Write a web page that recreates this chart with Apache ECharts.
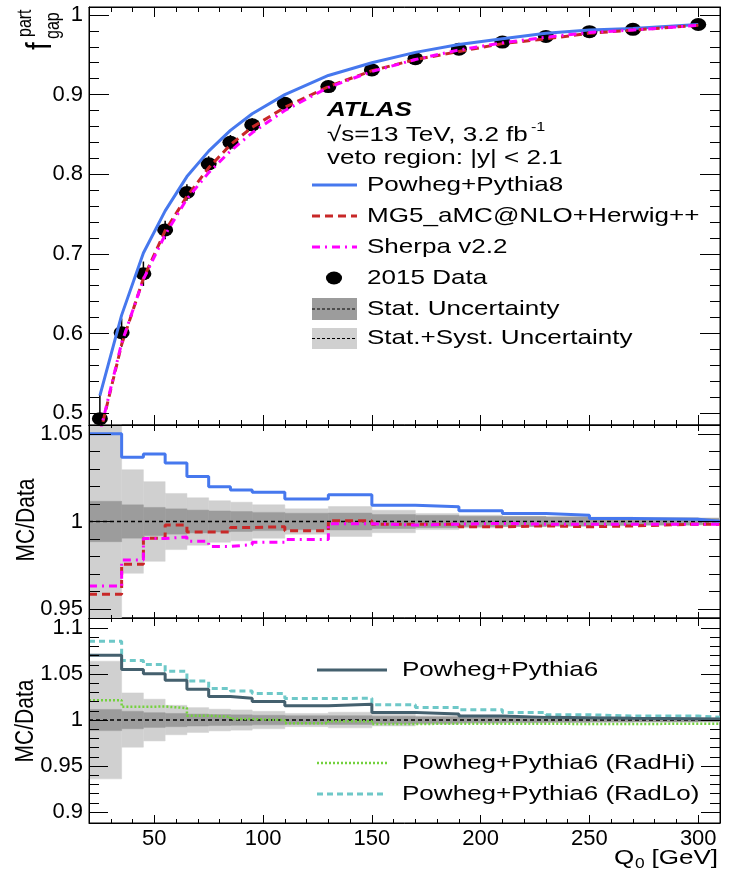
<!DOCTYPE html>
<html>
<head>
<meta charset="utf-8">
<script src="https://cdn.jsdelivr.net/npm/echarts@6/dist/echarts.min.js"></script>
<style>
html, body { margin: 0; padding: 0; background: #fff; }
#chart { width: 730px; height: 872px; }
</style>
</head>
<body>
<div id="chart"></div>
<script>
// Q0 values of the points and the bin edges used by the ratio histograms
const q0Points = [25, 35, 45, 55, 65, 75, 85, 95, 110, 130, 150, 170, 190, 210, 230, 250, 270, 300];
const binEdges = [20, 35, 45, 55, 65, 75, 85, 95, 110, 130, 150, 170, 190, 210, 230, 250, 270, 300, 310];

// top panel: f_gap
const fgapData    = [0.493, 0.601, 0.675, 0.730, 0.777, 0.813, 0.840, 0.862, 0.889, 0.910, 0.931, 0.945, 0.957, 0.966, 0.973, 0.979, 0.982, 0.988];
const fgapPowheg8 = [0.522, 0.623, 0.701, 0.754, 0.797, 0.829, 0.855, 0.876, 0.900, 0.924, 0.940, 0.953, 0.963, 0.970, 0.977, 0.981, 0.983, 0.988];
const fgapMG5     = [0.473, 0.586, 0.669, 0.729, 0.772, 0.808, 0.837, 0.859, 0.884, 0.910, 0.930, 0.944, 0.954, 0.964, 0.970, 0.977, 0.981, 0.987];
const fgapSherpa  = [0.475, 0.588, 0.668, 0.724, 0.769, 0.802, 0.829, 0.852, 0.880, 0.909, 0.929, 0.944, 0.956, 0.965, 0.972, 0.978, 0.981, 0.987];

// relative uncertainties of the data
const statUnc = [0.0115, 0.0095, 0.008, 0.0072, 0.0065, 0.006, 0.0057, 0.0052, 0.0047, 0.0048, 0.004, 0.0035, 0.003, 0.0028, 0.0025, 0.0022, 0.002, 0.0018];
const totUnc  = [0.064, 0.0295, 0.0227, 0.016, 0.0135, 0.0118, 0.011, 0.0095, 0.0072, 0.0085, 0.0064, 0.0046, 0.0036, 0.003, 0.0028, 0.0025, 0.0022, 0.002];

// middle panel: MC/Data
const ratioPowheg8 = [1.050, 1.0366, 1.0385, 1.0333, 1.0257, 1.0198, 1.0179, 1.0166, 1.0128, 1.0152, 1.0093, 1.0084, 1.0061, 1.0046, 1.0036, 1.0017, 1.0013, 1.0002];
const ratioMG5     = [0.9585, 0.9756, 0.9905, 0.998, 0.994, 0.994, 0.9966, 0.997, 0.9947, 1.0004, 0.9985, 0.9985, 0.997, 0.9975, 0.997, 0.9975, 0.9985, 0.9985];
const ratioSherpa  = [0.9632, 0.9781, 0.9903, 0.9912, 0.9888, 0.9858, 0.9868, 0.9882, 0.9897, 0.9987, 0.998, 0.9985, 0.9989, 0.9985, 0.9985, 0.9985, 0.9985, 0.9985];

// bottom panel: MC/Data
const ratioPowheg6 = [1.0705, 1.055, 1.0504, 1.0432, 1.0335, 1.0255, 1.0237, 1.0201, 1.0155, 1.0173, 1.0083, 1.0065, 1.0043, 1.0029, 1.0025, 1.002, 1.0015, 1.001];
const ratioRadHi   = [1.0216, 1.0144, 1.0147, 1.013, 1.0047, 1.0036, 1.001, 1.0, 0.9964, 0.9986, 0.9957, 0.996, 0.996, 0.996, 0.9957, 0.9957, 0.996, 0.996];
const ratioRadLo   = [1.0856, 1.0647, 1.0604, 1.0532, 1.0424, 1.0342, 1.0317, 1.0288, 1.0234, 1.0237, 1.0165, 1.0137, 1.0112, 1.0083, 1.0058, 1.0043, 1.0043, 1.003];

// tick labels
const xMajorTicks = [50, 100, 150, 200, 250, 300];
const yTopTicks = [0.5, 0.6, 0.7, 0.8, 0.9, 1];
const yMidTicks = [0.95, 1, 1.05];
const yBotTicks = [0.9, 0.95, 1, 1.05, 1.1];

const FONT = 'Liberation Sans';
const STRETCH = 1.24;
const xMin = 20, xMax = 310;

const C_BLUE = '#4678ee', C_RED = '#c82828', C_MAG = '#ff00ff';
const C_SLATE = '#44606e', C_TEAL = '#6ec8c8', C_GREEN = '#73d13d';
const C_STAT = '#9c9c9c', C_SYST = '#d0d0d0';

function minorValues(min, max, step, majors) {
    const out = [];
    for (let k = Math.ceil(min / step - 1e-9); k * step <= max + 1e-9; k++) {
        const v = +(k * step).toFixed(4);
        if (v < min + step * 0.3 || v > max - step * 0.3) continue;
        if (majors.some(m => Math.abs(m - v) < 1e-6)) continue;
        out.push(v);
    }
    return out;
}

const panels = [
    { top: 7, height: 418, yMin: 0.485, yMax: 1.01, yMajor: yTopTicks, yStep: 0.02,
      xMaj: 10, xMin: 5, yMaj: 20, yMinLen: 10, xLabels: false },
    { top: 425, height: 193, yMin: 0.945, yMax: 1.055, yMajor: yMidTicks, yStep: 0.01,
      xMaj: 6, xMin: 3, yMaj: 22, yMinLen: 11, xLabels: false },
    { top: 618, height: 205, yMin: 0.888, yMax: 1.111, yMajor: yBotTicks, yStep: 0.01,
      xMaj: 8, xMin: 4, yMaj: 19, yMinLen: 10, xLabels: true }
];

const labelStyle = { color: '#000', fontFamily: FONT, fontSize: 22 };

function makeAxis(gridIndex, position, min, max, ticks, len, withLine, label) {
    return {
        type: 'value', gridIndex, position, min, max, z: 10,
        axisLine: { show: withLine, onZero: false, lineStyle: { color: '#000', width: 1 } },
        axisTick: { show: true, inside: true, length: len, customValues: ticks,
                    lineStyle: { color: '#000', width: 1 } },
        axisLabel: label ? Object.assign({ customValues: ticks }, label) : { show: false },
        splitLine: { show: false }
    };
}

const xMinor = minorValues(xMin, xMax, 10, xMajorTicks);
const xAxes = [], yAxes = [];
panels.forEach((p, g) => {
    const yMinor = minorValues(p.yMin, p.yMax, p.yStep, p.yMajor);
    const xl = p.xLabels ? Object.assign({ margin: 5 }, labelStyle) : null;
    xAxes.push(
        makeAxis(g, 'bottom', xMin, xMax, xMajorTicks, p.xMaj, true, xl),
        makeAxis(g, 'bottom', xMin, xMax, xMinor, p.xMin, false, null),
        makeAxis(g, 'top', xMin, xMax, xMajorTicks, p.xMaj, true, null),
        makeAxis(g, 'top', xMin, xMax, xMinor, p.xMin, false, null)
    );
    const yl = Object.assign({ margin: 6, formatter: v => String(+(+v).toFixed(2)) }, labelStyle);
    yAxes.push(
        makeAxis(g, 'left', p.yMin, p.yMax, p.yMajor, p.yMaj, true, yl),
        makeAxis(g, 'left', p.yMin, p.yMax, yMinor, p.yMinLen, false, null),
        makeAxis(g, 'right', p.yMin, p.yMax, p.yMajor, p.yMaj, true, null),
        makeAxis(g, 'right', p.yMin, p.yMax, yMinor, p.yMinLen, false, null)
    );
});

function csRect(params) {
    const c = params.coordSys;
    return { x: c.x, y: c.y, width: c.width, height: c.height };
}

function bandSeries(g, unc, color, z) {
    return {
        type: 'custom', xAxisIndex: 4 * g, yAxisIndex: 4 * g, silent: true, z,
        data: unc.map((u, i) => [binEdges[i], binEdges[i + 1], u]),
        renderItem: (params, api) => {
            const p1 = api.coord([api.value(0), 1 + api.value(2)]);
            const p2 = api.coord([api.value(1), 1 - api.value(2)]);
            const shape = echarts.graphic.clipRectByRect(
                { x: p1[0], y: p1[1], width: p2[0] - p1[0], height: p2[1] - p1[1] }, csRect(params));
            return shape && { type: 'rect', shape, style: { fill: color, stroke: color, lineWidth: 0.5 } };
        }
    };
}

function stepSeries(g, vals, color, width, dash, z) {
    return {
        type: 'line', xAxisIndex: 4 * g, yAxisIndex: 4 * g, step: 'end', showSymbol: false,
        silent: true, z,
        data: binEdges.map((e, i) => [e, vals[Math.min(i, vals.length - 1)]]),
        lineStyle: { color, width, type: dash }
    };
}

function unitySeries(g) {
    return {
        type: 'line', xAxisIndex: 4 * g, yAxisIndex: 4 * g, showSymbol: false, silent: true, z: 4,
        data: [[xMin, 1], [xMax, 1]],
        lineStyle: { color: '#000', width: 1.5, type: [4, 3] }
    };
}

function curveSeries(vals, color, dash, z) {
    return {
        type: 'line', xAxisIndex: 0, yAxisIndex: 0, showSymbol: false, silent: true, z,
        data: q0Points.map((q, i) => [q, vals[i]]),
        lineStyle: { color, width: 3, type: dash }
    };
}

const series = [
    // top panel
    {
        type: 'custom', xAxisIndex: 0, yAxisIndex: 0, silent: true, z: 2,
        data: q0Points.map((q, i) => [q, fgapData[i], fgapData[i] * totUnc[i]]),
        renderItem: (params, api) => {
            const a = api.coord([api.value(0), api.value(1) - api.value(2)]);
            const b = api.coord([api.value(0), api.value(1) + api.value(2)]);
            const pts = echarts.graphic.clipPointsByRect([a, b], csRect(params));
            return { type: 'line', shape: { x1: pts[0][0], y1: pts[0][1], x2: pts[1][0], y2: pts[1][1] },
                     style: { stroke: '#000', lineWidth: 1.5 } };
        }
    },
    {
        type: 'scatter', xAxisIndex: 0, yAxisIndex: 0, silent: true, z: 3,
        symbol: 'circle', symbolSize: [16, 13],
        data: q0Points.map((q, i) => [q, fgapData[i]]),
        itemStyle: { color: '#000', opacity: 1 }
    },
    curveSeries(fgapPowheg8, C_BLUE, 'solid', 5),
    curveSeries(fgapMG5, C_RED, [8, 5], 6),
    curveSeries(fgapSherpa, C_MAG, [8, 5, 2, 5], 7),
    // middle panel
    bandSeries(1, totUnc, C_SYST, 1),
    bandSeries(1, statUnc, C_STAT, 2),
    unitySeries(1),
    stepSeries(1, ratioMG5, C_RED, 3, [8, 5], 5),
    stepSeries(1, ratioSherpa, C_MAG, 3, [8, 5, 2, 5], 6),
    stepSeries(1, ratioPowheg8, C_BLUE, 3, 'solid', 7),
    // bottom panel
    bandSeries(2, totUnc, C_SYST, 1),
    bandSeries(2, statUnc, C_STAT, 2),
    unitySeries(2),
    stepSeries(2, ratioRadHi, C_GREEN, 2.5, [2, 2], 5),
    stepSeries(2, ratioRadLo, C_TEAL, 3, [6, 4], 6),
    stepSeries(2, ratioPowheg6, C_SLATE, 3, 'solid', 7)
];

// text helpers (the original picture is stretched horizontally)
function txt(text, x, y, o = {}) {
    const rot = !!o.rotate;
    return {
        type: 'text', x, y, z: 100, silent: true,
        rotation: rot ? Math.PI / 2 : 0,
        scaleX: rot ? 1 : STRETCH, scaleY: rot ? STRETCH : 1,
        style: {
            text, fill: '#000', fontFamily: FONT, fontSize: o.size || 21,
            fontWeight: o.weight || 'normal', fontStyle: o.italic ? 'italic' : 'normal',
            textAlign: o.align || 'left', textVerticalAlign: o.valign || 'middle'
        }
    };
}
function seg(x1, x2, y, color, width, dash) {
    return { type: 'line', z: 100, silent: true, shape: { x1, y1: y, x2, y2: y },
             style: { stroke: color, lineWidth: width, lineDash: dash || null } };
}
function box(x, y, w, h, color) {
    return { type: 'rect', z: 99, silent: true, shape: { x, y, width: w, height: h }, style: { fill: color } };
}

const LX1 = 312, LX2 = 357, LT = 367;
const graphic = [
    txt('ATLAS', 327, 110, { weight: 'bold', italic: true }),
    txt('√s=13 TeV, 3.2 fb', 327, 135),
    txt('-1', 531, 127, { size: 13 }),
    txt('veto region: |y| < 2.1', 327, 158),
    seg(LX1, LX2, 185, C_BLUE, 3), txt('Powheg+Pythia8', LT, 185),
    seg(LX1, LX2, 216, C_RED, 3, [8, 5]), txt('MG5_aMC@NLO+Herwig++', LT, 216),
    seg(LX1, LX2, 247, C_MAG, 3, [8, 5, 2, 5]), txt('Sherpa v2.2', LT, 247),
    { type: 'circle', x: 334, y: 278, scaleX: STRETCH, z: 100, silent: true,
      shape: { cx: 0, cy: 0, r: 6.5 }, style: { fill: '#000' } },
    txt('2015 Data', LT, 278),
    box(LX1, 298, LX2 - LX1, 22, C_STAT), seg(LX1, LX2, 309, '#000', 1.2, [3, 2]),
    txt('Stat. Uncertainty', LT, 309),
    box(LX1, 328, LX2 - LX1, 21, C_SYST), seg(LX1, LX2, 338.5, '#000', 1.2, [3, 2]),
    txt('Stat.+Syst. Uncertainty', LT, 338),
    // bottom legend
    seg(317, 387, 670, C_SLATE, 3), txt('Powheg+Pythia6', 402, 670),
    seg(317, 387, 763, C_GREEN, 2.5, [2, 2]), txt('Powheg+Pythia6 (RadHi)', 402, 763),
    seg(317, 387, 794, C_TEAL, 3, [6, 4]), txt('Powheg+Pythia6 (RadLo)', 402, 794),
    // axis titles
    txt('f', 41, 50, { rotate: true, size: 28 }),
    txt('part', 26, 37, { rotate: true, size: 16 }),
    txt('gap', 54, 39, { rotate: true, size: 16 }),
    txt('MC/Data', 27, 520, { rotate: true, align: 'center' }),
    txt('MC/Data', 26, 721, { rotate: true, align: 'center' }),
    txt('Q', 614, 858),
    txt('0', 635, 864, { size: 14 }),
    txt('[GeV]', 718, 858, { align: 'right' })
];

const chart = echarts.init(document.getElementById('chart'));
chart.setOption({
    animation: false,
    backgroundColor: '#fff',
    grid: panels.map(p => ({
        left: 89, width: 631, top: p.top, height: p.height, show: true,
        borderColor: '#000', borderWidth: 1, backgroundColor: 'transparent', outerBoundsMode: 'none'
    })),
    xAxis: xAxes,
    yAxis: yAxes,
    series,
    graphic
});
</script>
</body>
</html>
